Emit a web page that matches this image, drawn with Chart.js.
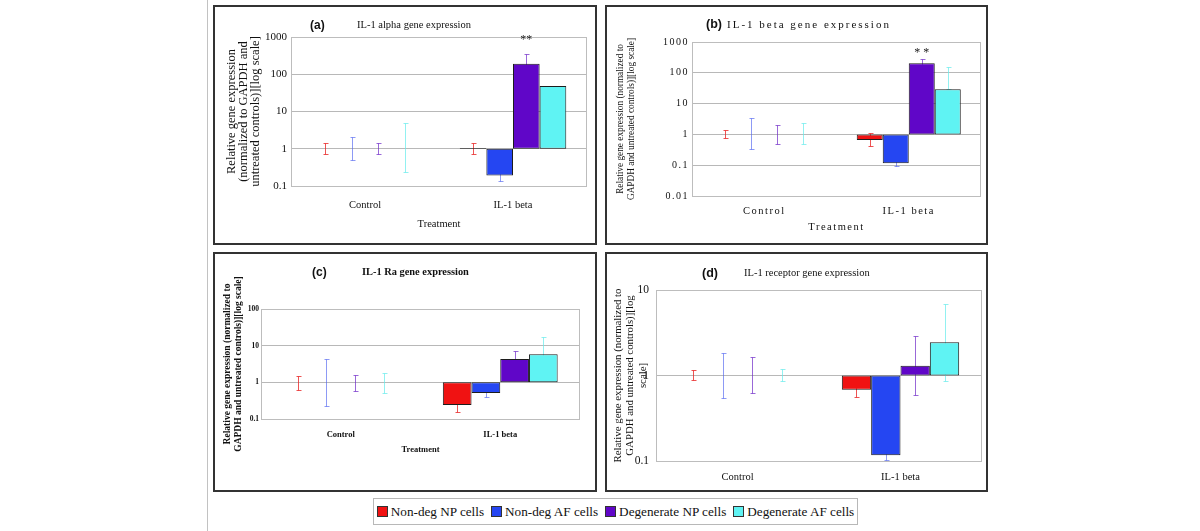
<!DOCTYPE html>
<html>
<head>
<meta charset="utf-8">
<script src="https://cdn.jsdelivr.net/npm/chart.js@4"></script>
<style>
  body { margin: 0; background: #fff; }
  #fig { position: relative; width: 1200px; height: 531px; overflow: hidden; font-family: 'Liberation Serif', 'Times New Roman', serif; color: #111; }
  .vline { position: absolute; left: 207px; top: 0; width: 1px; height: 531px; background: #c2c2c2; }
  .panel { position: absolute; }
  .panel canvas { position: absolute; left: 0; top: 0; }
  .frame { position: absolute; left: 0; top: 0; right: 0; bottom: 0; border: 2px solid #333; box-sizing: border-box; pointer-events: none; }
  .tag { position: absolute; font-family: 'Liberation Sans', Arial, sans-serif; font-weight: bold; white-space: nowrap; line-height: 14px; }
  .ttl { position: absolute; white-space: nowrap; line-height: 14px; }
  #legend { position: absolute; left: 373px; top: 498px; width: 485px; height: 27px; box-sizing: border-box; border: 1px solid #b8b8b8; display: flex; align-items: center; justify-content: center; gap: 7px; font-size: 13.2px; }
  #legend .item { display: flex; align-items: center; gap: 3px; white-space: nowrap; }
  #legend .sw { width: 9px; height: 9px; border: 1px solid #333; }
</style>
</head>
<body>
<div id="fig">
  <div class="vline"></div>

  <div class="panel" style="left:213px;top:5px;width:384px;height:240px">
    <canvas id="chartA" width="384" height="240" style="width:384px;height:240px"></canvas>
    <div class="tag" style="left:97px;top:13px;font-size:12px">(a)</div>
    <div class="ttl" style="left:144px;top:13px;font-size:10.5px">IL-1 alpha gene expression</div>
    <div class="frame"></div>
  </div>

  <div class="panel" style="left:605px;top:5px;width:383px;height:240px">
    <canvas id="chartB" width="383" height="240" style="width:383px;height:240px"></canvas>
    <div class="tag" style="left:101px;top:12px;font-size:12.5px">(b)</div>
    <div class="ttl" style="left:122px;top:12px;font-size:11px;letter-spacing:2px">IL-1 beta gene expression</div>
    <div class="frame"></div>
  </div>

  <div class="panel" style="left:213px;top:252px;width:384px;height:240px">
    <canvas id="chartC" width="384" height="240" style="width:384px;height:240px"></canvas>
    <div class="tag" style="left:99px;top:13px;font-size:12px">(c)</div>
    <div class="ttl" style="left:149px;top:13px;font-size:10.4px;font-weight:bold">IL-1 Ra gene expression</div>
    <div class="frame"></div>
  </div>

  <div class="panel" style="left:605px;top:252px;width:383px;height:240px">
    <canvas id="chartD" width="383" height="240" style="width:383px;height:240px"></canvas>
    <div class="tag" style="left:97px;top:14px;font-size:12.5px">(d)</div>
    <div class="ttl" style="left:139px;top:14px;font-size:10.5px">IL-1 receptor gene expression</div>
    <div class="frame"></div>
  </div>

  <div id="legend"></div>
</div>

<script>
const categories = ['Control', 'IL-1 beta'];
const seriesNames = ['Non-deg NP cells', 'Non-deg AF cells', 'Degenerate NP cells', 'Degenerate AF cells'];
const barColors = ['#f01212', '#2546f2', '#6006c8', '#5ff3f3'];
const whiskerColors = ['rgba(232,40,40,0.8)', 'rgba(80,100,240,0.65)', 'rgba(110,40,200,0.7)', 'rgba(100,235,235,0.7)'];

// (a) IL-1 alpha: bar value, lower and upper end of the error bar, per series [Control, IL-1 beta]
const alphaTicks = [0.1, 1, 10, 100, 1000];
const alphaTickLabels = ['0.1', '1', '10', '100', '1000'];
const alphaMean = [[1, 1.05], [1, 0.19], [1, 190], [1, 48]];
const alphaLow = [[0.72, 0.74], [0.5, 0.14], [0.72, 120], [0.24, 48]];
const alphaHigh = [[1.43, 1.4], [2.05, 0.26], [1.43, 340], [4.9, 48]];

// (b) IL-1 beta
const betaTicks = [0.01, 0.1, 1, 10, 100, 1000];
const betaTickLabels = ['0.01', '0.1', '1', '10', '100', '1000'];
const betaMean = [[1, 0.66], [1, 0.115], [1, 205], [1, 29]];
const betaLow = [[0.75, 0.42], [0.33, 0.094], [0.49, 140], [0.49, 29]];
const betaHigh = [[1.39, 1.08], [3.3, 0.14], [2.0, 275], [2.3, 150]];

// (c) IL-1 Ra
const raTicks = [0.1, 1, 10, 100];
const raTickLabels = ['0.1', '1', '10', '100'];
const raMean = [[1, 0.24], [1, 0.51], [1, 4.3], [1, 5.8]];
const raLow = [[0.62, 0.16], [0.23, 0.39], [0.59, 2.6], [0.52, 2]];
const raHigh = [[1.48, 0.33], [4.2, 0.62], [1.58, 7.1], [1.82, 17]];

// (d) IL-1 receptor
const recTicks = [0.1, 1, 10];
const recTickLabels = ['0.1', '1', '10'];
const recMean = [[1, 0.68], [1, 0.117], [1, 1.3], [1, 2.45]];
const recLow = [[0.885, 0.56], [0.55, 0.103], [0.62, 0.59], [0.87, 0.86]];
const recHigh = [[1.16, 0.8], [1.82, 0.13], [1.66, 2.9], [1.19, 6.8]];

const serif = "'Liberation Serif', 'Times New Roman', serif";

// plot frame + error bars under the bars, significance stars and letter spacing after
const panelDeco = {
  id: 'panelDeco',
  beforeDraw(chart) {
    chart.ctx.letterSpacing = '0px';
  },
  beforeDatasetsDraw(chart) {
    const { ctx, chartArea: a, scales: { y } } = chart;
    ctx.save();
    ctx.lineWidth = 1;
    ctx.strokeStyle = '#bdbdbd';
    ctx.strokeRect(Math.round(a.left) + 0.5, Math.round(a.top) + 0.5, Math.round(a.right - a.left) - 1, Math.round(a.bottom - a.top));
    chart.data.datasets.forEach((ds, s) => {
      chart.getDatasetMeta(s).data.forEach((bar, i) => {
        const lo = ds.low[i], hi = ds.high[i];
        if (lo === hi) return;
        const x = Math.round(bar.x) + 0.5;
        const y1 = Math.round(y.getPixelForValue(lo)) + 0.5;
        const y2 = Math.round(y.getPixelForValue(hi)) + 0.5;
        ctx.strokeStyle = whiskerColors[s];
        ctx.beginPath();
        ctx.moveTo(x, y1); ctx.lineTo(x, y2);
        ctx.moveTo(x - 2, y1); ctx.lineTo(x + 3, y1);
        ctx.moveTo(x - 2, y2); ctx.lineTo(x + 3, y2);
        ctx.stroke();
      });
    });
    ctx.restore();
  },
  afterDatasetsDraw(chart, args, o) {
    const ctx = chart.ctx;
    if (o.starAt) {
      const bar = chart.getDatasetMeta(2).data[1];
      ctx.save();
      ctx.letterSpacing = (o.starSpacing || 0) + 'px';
      ctx.font = '12px ' + serif;
      ctx.fillStyle = '#222';
      ctx.textAlign = 'center';
      ctx.textBaseline = 'alphabetic';
      ctx.fillText('**', bar.x + (o.starSpacing || 0) / 2, chart.scales.y.getPixelForValue(o.starAt));
      ctx.restore();
    }
    ctx.letterSpacing = (o.spacing || 0) + 'px';
  }
};

function buildPanel(canvasId, p) {
  const datasets = seriesNames.map((name, s) => ({
    label: name,
    data: p.mean[s].map(v => [1, v]),
    low: p.low[s],
    high: p.high[s],
    backgroundColor: barColors[s],
    borderColor: '#1c1c1c',
    borderWidth: 1,
    borderSkipped: false,
    categoryPercentage: 0.72,
    barPercentage: 1
  }));
  return new Chart(document.getElementById(canvasId), {
    type: 'bar',
    data: { labels: categories, datasets: datasets },
    options: {
      responsive: false,
      animation: false,
      events: [],
      layout: { autoPadding: false, padding: { left: 0, top: p.top, right: p.right, bottom: 0 } },
      plugins: {
        legend: { display: false },
        tooltip: { enabled: false },
        panelDeco: { spacing: p.spacing, starAt: p.starAt, starSpacing: p.starSpacing }
      },
      scales: {
        x: {
          grid: { display: false, drawTicks: false, z: 1 },
          border: { display: false },
          ticks: { font: p.xFont, color: '#111', padding: p.xPad, autoSkip: false, maxRotation: 0, z: 1 },
          title: { display: !!p.xTitle, text: p.xTitle || '', font: p.xTitleFont || p.xFont, color: '#111', padding: { top: 0, bottom: p.xTitlePad || 0 } },
          afterFit: s => { s.height = p.xh; }
        },
        y: {
          type: 'logarithmic',
          min: p.ticks[0],
          max: p.ticks[p.ticks.length - 1],
          afterBuildTicks: s => { s.ticks = p.ticks.map(v => ({ value: v })); },
          ticks: {
            font: p.yFont, color: '#111', padding: p.yPad, autoSkip: false, z: 1,
            callback: v => p.tickLabels[p.ticks.indexOf(v)]
          },
          grid: { color: '#b8b8b8', drawTicks: false },
          border: { color: '#a8a8a8' },
          title: { display: true, text: p.yTitle, font: p.yTitleFont, color: '#111', padding: { top: p.yTitlePad, bottom: 0 } },
          afterFit: s => { s.width = p.yw; }
        }
      }
    },
    plugins: [panelDeco]
  });
}

buildPanel('chartA', {
  mean: alphaMean, low: alphaLow, high: alphaHigh, ticks: alphaTicks, tickLabels: alphaTickLabels,
  top: 32, right: 10, yw: 78, xh: 59,
  yFont: { family: serif, size: 11 }, yPad: 4,
  yTitle: ['Relative gene expression', '(normalized to GAPDH and', 'untreated controls)][log scale]'],
  yTitleFont: { family: serif, size: 12.5, lineHeight: 0.94 }, yTitlePad: 13,
  xFont: { family: serif, size: 10.5 }, xPad: 13,
  xTitle: 'Treatment', xTitleFont: { family: serif, size: 10.5 }, xTitlePad: 14,
  starAt: 700
});

buildPanel('chartB', {
  mean: betaMean, low: betaLow, high: betaHigh, ticks: betaTicks, tickLabels: betaTickLabels,
  top: 37, right: 7, yw: 87, xh: 49,
  yFont: { family: serif, size: 10 }, yPad: 3,
  yTitle: ['Relative gene expression (normalized to', 'GAPDH and untreated controls)][log scale]'],
  yTitleFont: { family: serif, size: 9.3, lineHeight: 1.18 }, yTitlePad: 10.5,
  xFont: { family: serif, size: 10.5 }, xPad: 9,
  xTitle: 'Treatment', xTitleFont: { family: serif, size: 10.5 }, xTitlePad: 11,
  spacing: 1.5, starAt: 340, starSpacing: 3
});

buildPanel('chartC', {
  mean: raMean, low: raLow, high: raHigh, ticks: raTicks, tickLabels: raTickLabels,
  top: 57, right: 17, yw: 48, xh: 73,
  yFont: { family: serif, size: 7.5, weight: 'bold' }, yPad: 2,
  yTitle: ['Relative gene expression (normalized to', 'GAPDH and untreated controls)][log scale]'],
  yTitleFont: { family: serif, size: 9.5, weight: 'bold', lineHeight: 1.16 }, yTitlePad: 9.5,
  xFont: { family: serif, size: 8.5, weight: 'bold' }, xPad: 11,
  xTitle: 'Treatment', xTitleFont: { family: serif, size: 8.5, weight: 'bold' }, xTitlePad: 37
});

buildPanel('chartD', {
  mean: recMean, low: recLow, high: recHigh, ticks: recTicks, tickLabels: recTickLabels,
  top: 38, right: 6, yw: 51, xh: 31,
  yFont: { family: serif, size: 11.5 }, yPad: 7,
  yTitle: ['Relative gene expression (normalized to', 'GAPDH and untreated controls)][log', 'scale]'],
  yTitleFont: { family: serif, size: 10.8, lineHeight: 1.16 }, yTitlePad: 6.7,
  xFont: { family: serif, size: 10.5 }, xPad: 10
});

// shared legend
const legend = document.getElementById('legend');
seriesNames.forEach((name, s) => {
  const item = document.createElement('div');
  item.className = 'item';
  const sw = document.createElement('span');
  sw.className = 'sw';
  sw.style.background = barColors[s];
  const label = document.createElement('span');
  label.textContent = name;
  item.appendChild(sw);
  item.appendChild(label);
  legend.appendChild(item);
});
</script>
</body>
</html>
